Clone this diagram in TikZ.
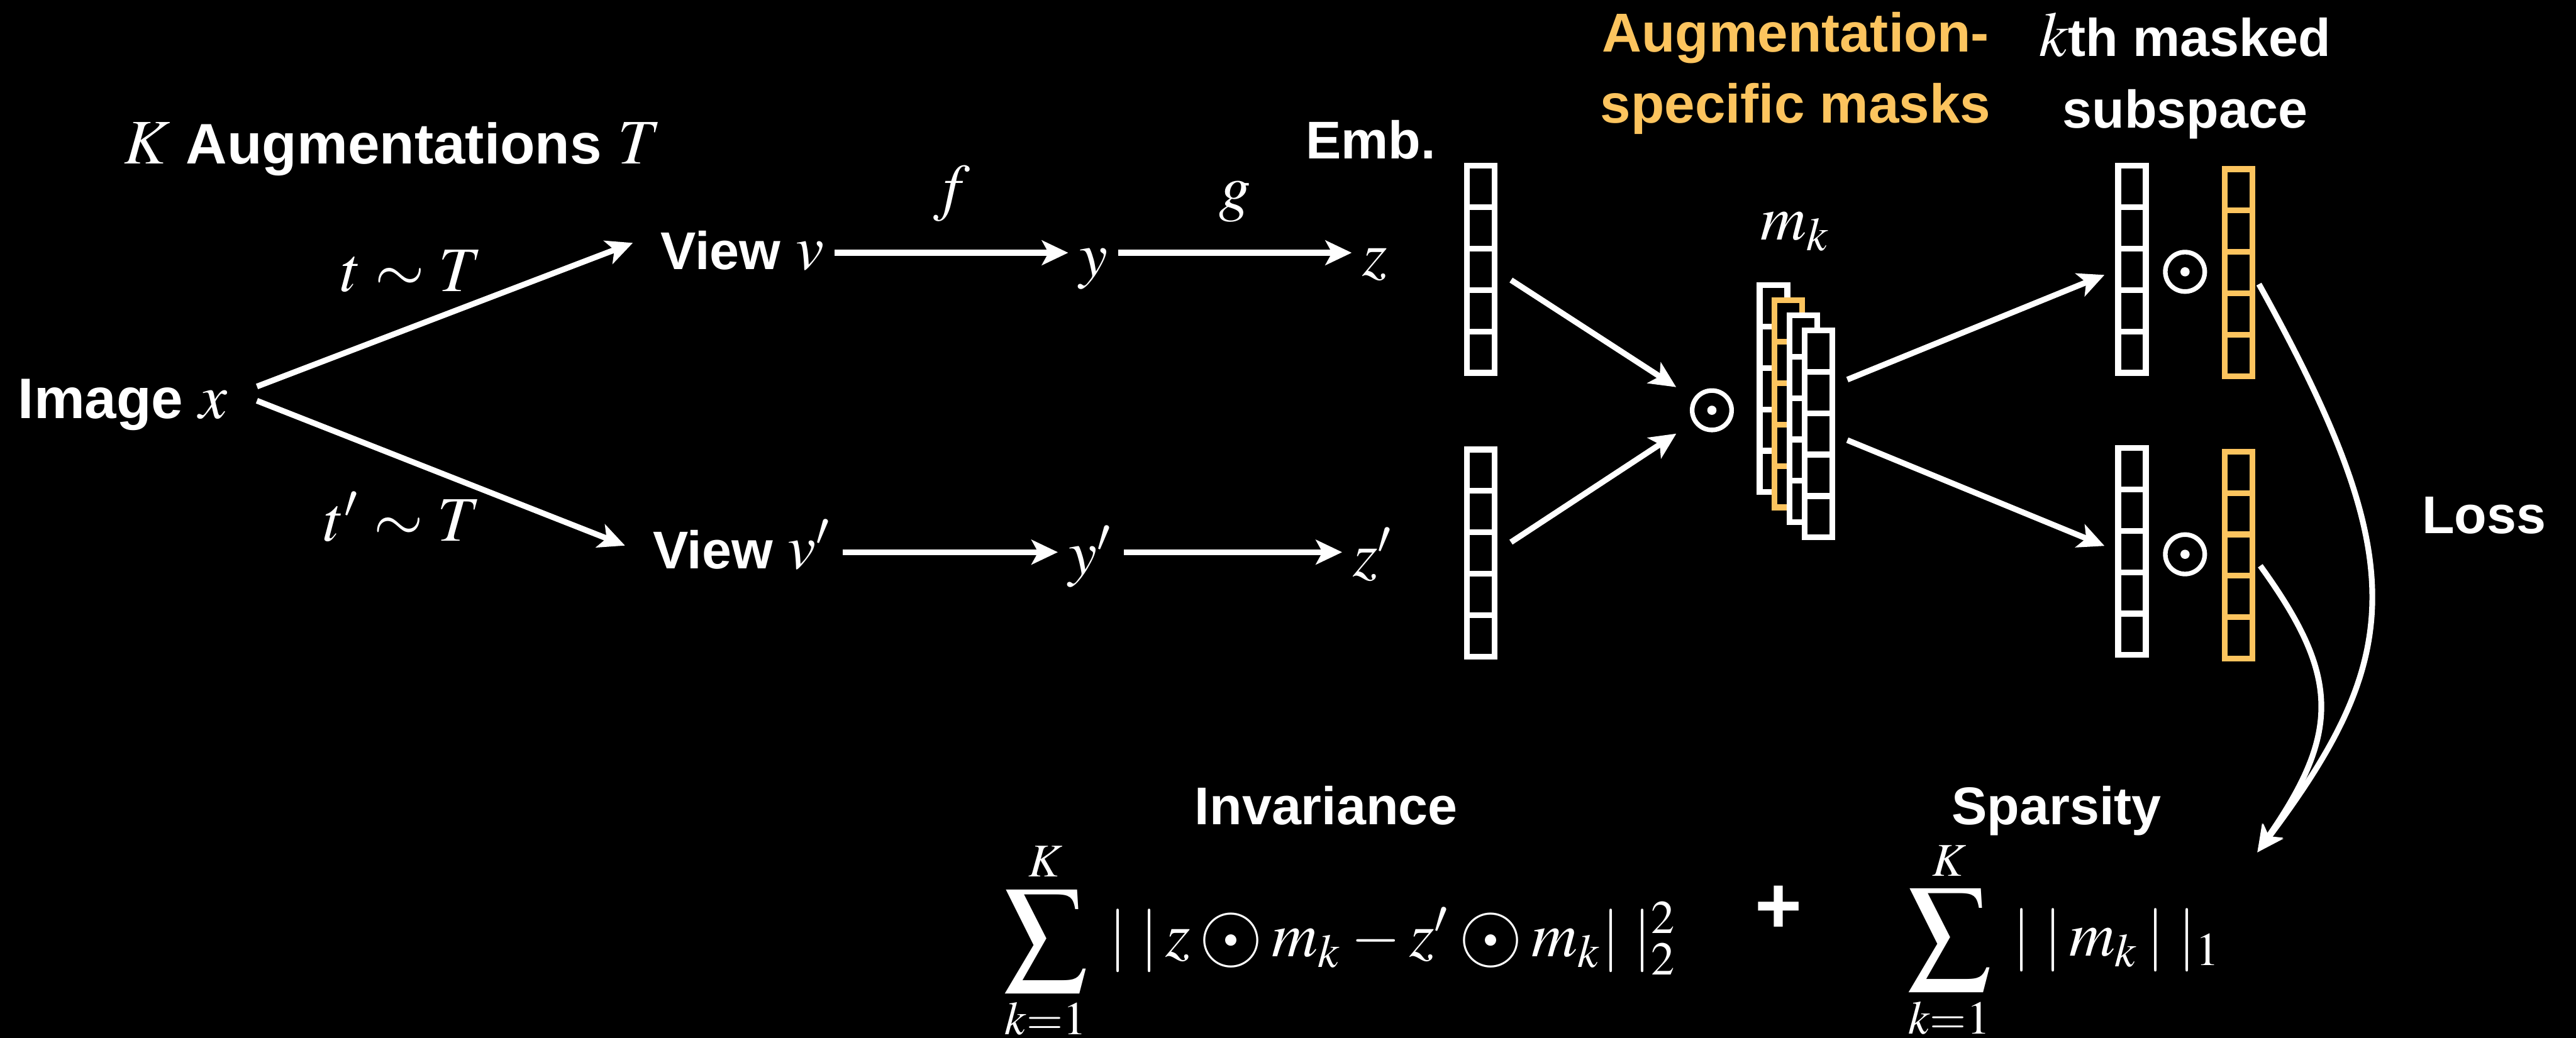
\documentclass[tikz,border=0pt]{standalone}
\usepackage{amsmath}
\usepackage{graphicx}
\usepackage{mathptmx}
\usepackage[no-math]{fontspec}
\newfontfamily\labelfont{Liberation Sans}
\usetikzlibrary{arrows.meta,positioning}

\definecolor{maskorange}{RGB}{252,196,94}

% a column vector of five cells
\newcommand{\cellvec}[4]{%
  \node[vecbox, draw=#4] (#1) at (#2,#3) {};
  \foreach \cellno in {1,...,4}
    \draw[#4, line width=1pt] ([yshift=-\cellno*0.252cm]#1.north west) -- ([yshift=-\cellno*0.252cm]#1.north east);
}
\newcommand{\mvar}[1]{{\fontsize{11}{13}\selectfont$#1$}}
\newcommand{\bigsum}{\mathop{\vcenter{\hbox{\scalebox{1.3}{$\displaystyle\sum$}}}}\limits}
\newcommand{\bodot}{\mathbin{\vcenter{\hbox{\scalebox{1.3}{$\odot$}}}}}

\begin{document}
\begin{tikzpicture}[
  every node/.style={text=white, inner sep=0.06cm},
  lbl/.style={font=\labelfont\bfseries\fontsize{9.2}{12.5}\selectfont},
  biglbl/.style={font=\labelfont\bfseries\fontsize{9.9}{12}\selectfont},
  mth/.style={font=\fontsize{11}{13}\selectfont},
  link/.style={->, >={Stealth[length=0.16cm, width=0.15cm, inset=0.04cm]}, draw=white, line width=1pt},
  vecbox/.style={rectangle, minimum width=0.168cm, minimum height=1.26cm, inner sep=0pt, outer sep=0pt, line width=1pt, fill=black},
  odot/.style={circle, draw=white, line width=0.8pt, minimum size=0.24cm, inner sep=0pt,
    path picture={\fill[white] (path picture bounding box.center) circle (0.028);}}
]
  \useasboundingbox (0,0) rectangle (15.68,-6.32);
  \fill[black] (0,0) rectangle (15.68,-6.32);

  % image and views
  \node[biglbl, anchor=base west, text height=0.3cm, text depth=0cm] (img) at (0.043,-2.546) {Image \mvar{x}};
  \node[biglbl, anchor=base] (augs) at (2.39,-0.998) {\mvar{K} Augmentations \mvar{T}};
  \node[lbl, anchor=base, text height=0.2cm, text depth=0cm] (v1) at (4.518,-1.639) {View \mvar{v}};
  \node[lbl, anchor=base, text height=0.2cm, text depth=0cm] (v2) at (4.518,-3.462) {View \mvar{v'}};

  \draw[link, shorten <=0.12cm, shorten >=0.11cm] (img.east) -- (v1.170)
    node[mth, midway, above=0.06cm, xshift=-0.2cm] (tlab) {$t \sim T$};
  \draw[link, shorten <=0.12cm, shorten >=0.11cm] (img.east) -- (v2.west)
    node[mth, midway, below=0.04cm, xshift=-0.23cm] (tplab) {$t' \sim T$};

  % encoder and projector
  \node[mth, anchor=base] (y1) at (6.655,-1.683) {$y$};
  \node[mth, anchor=base] (z1) at (8.37,-1.68) {$z$};
  \node[mth, anchor=base] (y2) at (6.64,-3.498) {$y'$};
  \node[mth, anchor=base] (z2) at (8.36,-3.51) {$z'$};
  \draw[link] (v1) -- (v1 -| y1.west) node[mth, midway, above=0.11cm] (flab) {$f$};
  \draw[link] (y1.east |- v1) -- (z1.west |- v1) node[mth, midway, above=0.11cm] (glab) {$g$};
  \draw[link] (v2) -- (v2 -| y2.west);
  \draw[link] (y2.east |- v2) -- (z2.west |- v2);

  % embeddings
  \node[lbl, anchor=base east] (emb) at (8.806,-0.968) {Emb.};
  \cellvec{e1}{9.013}{-1.64}{white}
  \cellvec{e2}{9.013}{-3.367}{white}

  % masks
  \node[odot] (od0) at (10.42,-2.498) {};
  \cellvec{m1}{10.795}{-2.367}{white}
  \cellvec{m2}{10.886}{-2.459}{maskorange}
  \cellvec{m3}{10.977}{-2.55}{white}
  \cellvec{m4}{11.068}{-2.642}{white}
  \node[mth, anchor=base] (mk) at (10.93,-1.46) {$m_k$};
  \node[lbl, font=\labelfont\bfseries\fontsize{9.5}{12.4}\selectfont, text=maskorange, align=center, anchor=north] (masklab) at (10.93,-0.005) {Augmentation-\\specific masks};
  \draw[link, shorten <=0.12cm, shorten >=0.125cm] (e1.east) -- (od0);
  \draw[link, shorten <=0.12cm, shorten >=0.125cm] (e2.east) -- (od0);

  % masked subspaces
  \cellvec{s1}{12.977}{-1.64}{white}
  \cellvec{c1}{13.627}{-1.66}{maskorange}
  \cellvec{s2}{12.977}{-3.358}{white}
  \cellvec{c2}{13.627}{-3.38}{maskorange}
  \node[odot] (od1) at (13.30,-1.655) {};
  \node[odot] (od2) at (13.30,-3.375) {};
  \node[lbl, align=center, anchor=north] (sublab) at (13.30,-0.008) {\mvar{k}th masked\\subspace};
  \draw[link, shorten <=0.1cm, shorten >=0.09cm] (m4.74) -- (s1.west);
  \draw[link, shorten <=0.1cm, shorten >=0.09cm] (m4.east) -- (s2.west);

  % loss
  \coordinate (losstip) at (13.74,-5.19);
  \draw[link, shorten <=0.08cm] (c1.east) .. controls +(0.97,-1.75) and +(0.9,1.2) .. (losstip);
  \draw[link, shorten <=0.08cm] (c2.east) .. controls +(0.527,-0.729) and +(0.513,0.738) .. (losstip);
  \node[lbl, anchor=base] (loss) at (15.12,-3.248) {Loss};

  % objective
  \node[lbl, anchor=base] (inv) at (8.073,-5.019) {Invariance};
  \node[lbl, anchor=base] (spa) at (12.518,-5.021) {Sparsity};
  \node[mth, anchor=base west] (invterm) at (6.04,-5.824) {$\bigsum_{k=1}^{K}\;|\;|\,z \bodot m_k - z' \bodot m_k|\;|_2^2$};
  \node[font=\labelfont\bfseries\fontsize{14}{14}\selectfont] (plus) at (10.826,-5.538) {+};
  \node[mth, anchor=base west] (spaterm) at (11.54,-5.82) {$\bigsum_{k=1}^{K}\;|\;|\,m_k\,|\;|_1$};
\end{tikzpicture}
\end{document}
